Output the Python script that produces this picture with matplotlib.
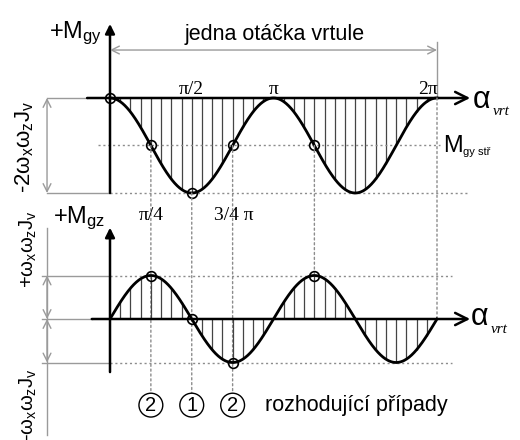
import numpy as np
import matplotlib
matplotlib.use('Agg')
import matplotlib.pyplot as plt
from matplotlib.patches import ConnectionPatch

plt.rcParams['font.family'] = ['Liberation Sans', 'DejaVu Sans']
plt.rcParams['mathtext.fontset'] = 'custom'
plt.rcParams['mathtext.rm'] = 'Liberation Sans'
plt.rcParams['mathtext.it'] = 'Liberation Sans'
plt.rcParams['mathtext.bf'] = 'Liberation Sans:bold'

# Key angles (rad) and moment values in units of wx*wz*Jv
gy_pts_a = [0, np.pi / 4, np.pi / 2, 3 * np.pi / 4, 5 * np.pi / 4]
gy_pts_m = [0, -1, -2, -1, -1]
gz_pts_a = [np.pi / 4, np.pi / 2, 3 * np.pi / 4, 5 * np.pi / 4]
gz_pts_m = [1, 0, -1, 1]
gy_mean = -1
top_ticks = [(np.pi / 2, 'π/2'), (np.pi, 'π'), (2 * np.pi, '2π')]
mid_ticks = [(np.pi / 4, 'π/4'), (0.76 * np.pi, '3/4 π')]
cases_a = [np.pi / 4, np.pi / 2, 3 * np.pi / 4]
cases_lbl = ['2', '1', '2']

# M_gy = -wx wz Jv (1 - cos 2a), M_gz = wx wz Jv sin 2a
a = np.linspace(0, 2 * np.pi, 400)
m_gy = -(1 - np.cos(2 * a))
m_gz = np.sin(2 * a)
a_h = np.arange(1, 32) * np.pi / 16
h_gy = -(1 - np.cos(2 * a_h))
h_gz = np.sin(2 * a_h)

fig = plt.figure(figsize=(5.2, 4.4), dpi=100)
fig.patch.set_facecolor('white')
sx = 327 / (2 * np.pi)
xl = (-110 / sx, 410 / sx)

ax1 = fig.add_axes([0, 0, 1, 1])
ax1.set_xlim(xl)
ax1.set_ylim((98 - 440) / 47.5, 98 / 47.5)
ax1.axis('off')
ax2 = fig.add_axes([0, 0, 1, 1])
ax2.set_xlim(xl)
ax2.set_ylim((319 - 440) / 43.5, 319 / 43.5)
ax2.axis('off')
ax2.patch.set_alpha(0)

grey = '#9a9a9a'
dot = dict(color='#8c8c8c', lw=1, ls=(0, (1.5, 2)))

# ---- upper diagram, M_gy ----
ax1.vlines(a_h, h_gy, 0, color='#444444', lw=0.9)
ax1.plot(a, m_gy, color='k', lw=2, zorder=4)
ax1.plot(gy_pts_a, gy_pts_m, 'o', ms=7, mfc='none', mec='k', mew=1.2, zorder=5)
ax1.plot([-0.23, 6.34], [gy_mean, gy_mean], **dot)
ax1.plot([0, 6.88], [-2, -2], **dot)
ax1.plot([-1.21, 0], [-2, -2], color=grey, lw=1)
ax1.plot([-1.21, -0.44], [0, 0], color=grey, lw=1)
ax1.annotate('', xy=(-1.21, 0), xytext=(-1.21, -2),
             arrowprops=dict(arrowstyle='<->', color=grey, lw=1, mutation_scale=14,
                             shrinkA=0, shrinkB=0))
ax1.annotate('', xy=(6.92, 0), xytext=(-0.44, 0),
             arrowprops=dict(arrowstyle='->', color='k', lw=1.8, mutation_scale=22,
                             shrinkA=0, shrinkB=0))
ax1.annotate('', xy=(0, 1.56), xytext=(0, -2),
             arrowprops=dict(arrowstyle='-|>', color='k', lw=1.8, mutation_scale=14,
                             shrinkA=0, shrinkB=0))
ax1.annotate('', xy=(0, 1.01), xytext=(2 * np.pi, 1.01),
             arrowprops=dict(arrowstyle='<->', color=grey, lw=1, mutation_scale=14,
                             shrinkA=0, shrinkB=0))
ax1.plot([2 * np.pi, 2 * np.pi], [1.18, 0], color=grey, lw=1)
ax1.text(3.17, 1.33, 'jedna otáčka vrtule', ha='center', va='center', fontsize=15.5)
ax1.text(-1.17, 1.27, '+M$_{gy}$', ha='left', va='baseline', fontsize=17)
ax1.text(-1.63, -1.03, '-2$\\omega_{x}\\omega_{z}J_{v}$', rotation=90,
         ha='center', va='center', fontsize=16)
for xa, lbl in top_ticks:
    ax1.text(xa - (0.17 if lbl == '2π' else 0), 0.18, lbl, ha='center', va='center',
             fontsize=14, family='Liberation Serif')
ax1.text(6.40, -1.14, 'M', ha='left', va='baseline', fontsize=17)
ax1.text(6.79, -1.2, 'gy stř', ha='left', va='baseline', fontsize=8)
ax1.text(6.97, -0.2, 'α', ha='left', va='baseline', fontsize=22)
ax1.text(7.35, -0.36, 'vrt', ha='left', va='baseline', fontsize=11,
         family='Liberation Serif', style='italic')

# ---- lower diagram, M_gz ----
ax2.vlines(a_h, 0, h_gz, color='#444444', lw=0.9)
ax2.plot(a, m_gz, color='k', lw=2, zorder=4)
ax2.plot(gz_pts_a, gz_pts_m, 'o', ms=7, mfc='none', mec='k', mew=1.2, zorder=5)
ax2.plot([0, 6.57], [1, 1], **dot)
ax2.plot([0, 6.57], [-1, -1], **dot)
ax2.plot([-1.31, 0], [1, 1], color=grey, lw=1)
ax2.plot([-1.31, 0], [-1, -1], color=grey, lw=1)
ax2.plot([-1.31, -0.35], [0, 0], color=grey, lw=1)
ax2.plot([-1.21, -1.21], [2.09, -2.67], color=grey, lw=1)
for y0, y1 in [(0, 1), (0, -1)]:
    ax2.annotate('', xy=(-1.21, y1), xytext=(-1.21, y0),
                 arrowprops=dict(arrowstyle='<->', color=grey, lw=1, mutation_scale=14,
                                 shrinkA=0, shrinkB=0))
ax2.annotate('', xy=(6.92, 0), xytext=(-0.35, 0),
             arrowprops=dict(arrowstyle='->', color='k', lw=1.8, mutation_scale=22,
                             shrinkA=0, shrinkB=0))
ax2.annotate('', xy=(0, 2.1), xytext=(0, -1.22),
             arrowprops=dict(arrowstyle='-|>', color='k', lw=1.8, mutation_scale=14,
                             shrinkA=0, shrinkB=0))
ax2.text(-1.10, 2.2, '+M$_{gz}$', ha='left', va='baseline', fontsize=17)
ax2.text(-1.56, 1.6, '+$\\omega_{x}\\omega_{z}J_{v}$', rotation=90,
         ha='center', va='center', fontsize=14.5)
ax2.text(-1.56, -1.97, '-$\\omega_{x}\\omega_{z}J_{v}$', rotation=90,
         ha='center', va='center', fontsize=14.5)
for xa, lbl in mid_ticks:
    ax2.text(xa, 2.39, lbl, ha='center', va='center', fontsize=14,
             family='Liberation Serif')
ax2.text(6.94, -0.14, 'α', ha='left', va='baseline', fontsize=22)
ax2.text(7.32, -0.32, 'vrt', ha='left', va='baseline', fontsize=11,
         family='Liberation Serif', style='italic')

# dotted guides running from one diagram to the other
guides = [(np.pi / 4, -1, -1.98), (np.pi / 2, -2, -1.98), (3 * np.pi / 4, -1, -1.98),
          (5 * np.pi / 4, -1, 1), (2 * np.pi, 0, 0)]
for xa, ya, yb in guides:
    con = ConnectionPatch(xyA=(xa, ya), coordsA=ax1.transData,
                          xyB=(xa, yb), coordsB=ax2.transData, **dot)
    con.set_zorder(1)
    ax2.add_artist(con)

for xa, lbl in zip(cases_a, cases_lbl):
    ax2.text(xa, -1.98, lbl, ha='center', va='center', fontsize=14.5, zorder=6,
             bbox=dict(boxstyle='circle,pad=0.12', fc='white', ec='k', lw=1))
ax2.text(2.98, -1.98, 'rozhodující případy', ha='left', va='center', fontsize=15.5)

fig.savefig('out.png', dpi=100)
